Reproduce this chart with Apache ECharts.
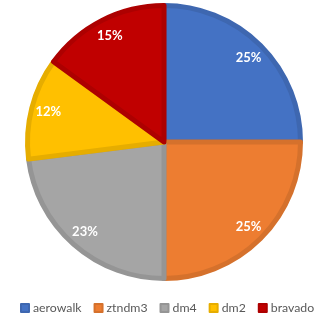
<!DOCTYPE html>
<html><head><meta charset="utf-8">
<script src="https://cdn.jsdelivr.net/npm/echarts@6/dist/echarts.min.js"></script>
<style>html,body{margin:0;padding:0;background:#fff}#c{width:323px;height:321px}</style>
</head><body><div id="c"></div>
<script>
const categories = ['aerowalk', 'ztndm3', 'dm4', 'dm2', 'bravado'];
const values = [25, 25, 23, 12, 15];
const colors = ['#4472C4', '#ED7D31', '#A5A5A5', '#FFC000', '#C00000'];
const borderColors = ['#3E67B0', '#D5712C', '#959595', '#E6AD00', '#AD0000'];

const chart = echarts.init(document.getElementById('c'));
const data = categories.map((n, i) => ({
  name: n, value: values[i],
  itemStyle: { color: colors[i], borderColor: borderColors[i] }
}));
chart.setOption({
  animation: false,
  legend: {
    bottom: 2, left: 15,
    icon: 'rect', itemWidth: 8, itemHeight: 8, itemGap: 12,
    textStyle: { fontFamily: 'Lato', fontSize: 12.3, color: '#595959', padding: [0, 0, 0, -1] },
    data: categories
  },
  series: [{
    type: 'pie', center: [164, 142], radius: 136.5,
    startAngle: 90, clockwise: true,
    itemStyle: { borderWidth: 5 },
    label: { show: false }, labelLine: { show: false },
    emphasis: { disabled: true },
    data: data
  }, {
    type: 'pie', center: [164, 142], radius: [96, 137],
    startAngle: 90, clockwise: true, silent: true,
    itemStyle: { color: 'transparent', borderWidth: 0 },
    label: { show: true, position: 'inside', formatter: '{c}%', color: '#fff',
      fontFamily: 'Lato', fontWeight: 'bold', fontSize: 13 },
    labelLine: { show: false },
    emphasis: { disabled: true },
    data: categories.map((n, i) => ({ name: n, value: values[i] }))
  }]
});
</script></body></html>
